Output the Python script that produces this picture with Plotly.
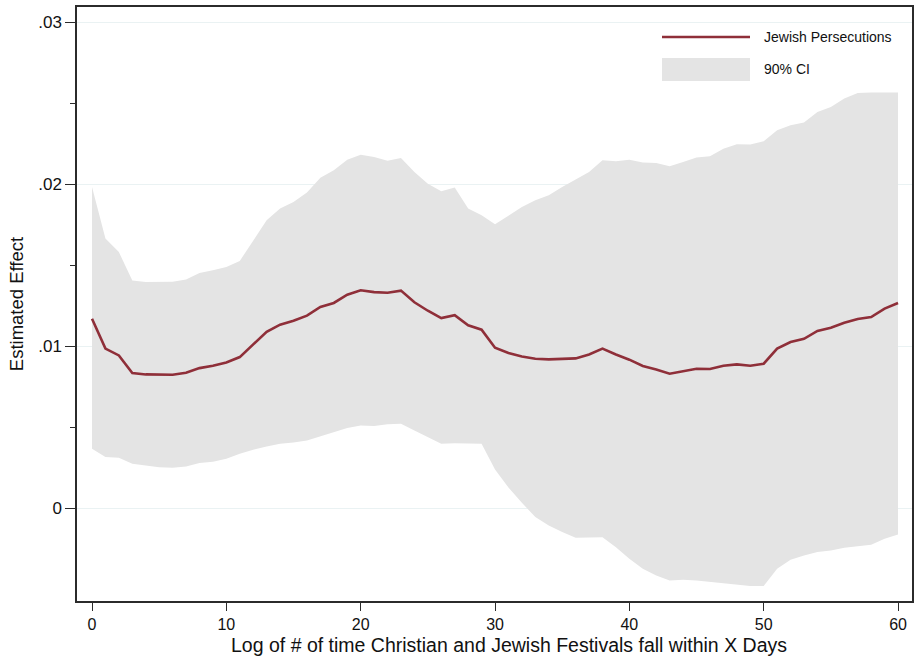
import plotly.graph_objects as go

# ---- data ----
days = list(range(0, 61))

estimate = [0.01171, 0.00986, 0.00944, 0.00835, 0.00827, 0.00825, 0.00825, 0.00837, 0.00866, 0.00881,
            0.00901, 0.00934, 0.01012, 0.01090, 0.01134, 0.01158, 0.01190, 0.01243, 0.01268, 0.01319,
            0.01346, 0.01335, 0.01331, 0.01344, 0.01272, 0.01220, 0.01175, 0.01192, 0.01130, 0.01103,
            0.00992, 0.00959, 0.00938, 0.00924, 0.00920, 0.00924, 0.00926, 0.00950, 0.00986, 0.00950,
            0.00918, 0.00879, 0.00858, 0.00831, 0.00848, 0.00862, 0.00860, 0.00881, 0.00889, 0.00881,
            0.00893, 0.00986, 0.01027, 0.01047, 0.01095, 0.01115, 0.01146, 0.01169, 0.01181, 0.01233,
            0.01268]

ci_upper = [0.01984, 0.01665, 0.01582, 0.01407, 0.01397, 0.01399, 0.01399, 0.01412, 0.01453, 0.01469,
            0.01490, 0.01527, 0.01654, 0.01778, 0.01850, 0.01891, 0.01950, 0.02040, 0.02086, 0.02152,
            0.02183, 0.02169, 0.02146, 0.02163, 0.02076, 0.02004, 0.01957, 0.01980, 0.01850, 0.01809,
            0.01753, 0.01805, 0.01860, 0.01901, 0.01932, 0.01984, 0.02029, 0.02076, 0.02148, 0.02142,
            0.02152, 0.02134, 0.02132, 0.02111, 0.02138, 0.02165, 0.02173, 0.02220, 0.02247, 0.02245,
            0.02265, 0.02333, 0.02364, 0.02381, 0.02446, 0.02477, 0.02529, 0.02564, 0.02566, 0.02566,
            0.02566]

ci_lower = [0.00368, 0.00317, 0.00313, 0.00276, 0.00265, 0.00255, 0.00251, 0.00259, 0.00280, 0.00288,
            0.00307, 0.00338, 0.00362, 0.00383, 0.00399, 0.00407, 0.00420, 0.00445, 0.00471, 0.00496,
            0.00512, 0.00508, 0.00519, 0.00523, 0.00481, 0.00440, 0.00399, 0.00403, 0.00403, 0.00399,
            0.00240, 0.00130, 0.00035, -0.00053, -0.00105, -0.00146, -0.00181, -0.00177, -0.00177, -0.00239,
            -0.00311, -0.00372, -0.00414, -0.00444, -0.00440, -0.00444, -0.00453, -0.00461, -0.00469, -0.00479,
            -0.00479, -0.00372, -0.00317, -0.00290, -0.00268, -0.00259, -0.00243, -0.00233, -0.00224, -0.00187,
            -0.00160]

y_tickvals = [0, 0.01, 0.02, 0.03]
y_ticktext = ["0", ".01", ".02", ".03"]
y_minorvals = [0.005, 0.015, 0.025]
x_tickvals = [0, 10, 20, 30, 40, 50, 60]

series_name = "Jewish Persecutions"
band_name = "90% CI"
x_title = "Log of # of time Christian and Jewish Festivals fall within X Days"
y_title = "Estimated Effect"

# ---- styling ----
W, H = 915, 656
ML, MR, MT, MB = 77, 3, 7, 55
LINE_COLOR = "#8F2F39"
FILL_COLOR = "#E4E4E4"
GRID_COLOR = "#EAF2F3"
AXIS_COLOR = "#2b2b2b"
FONT = "Liberation Sans, Arial, sans-serif"


def px_x(p):
    return (p - ML) / (W - ML - MR)


def px_y(p):
    return (H - MB - p) / (H - MT - MB)


fig = go.Figure()
fig.add_trace(go.Scatter(x=days, y=ci_lower, mode="lines", line=dict(width=0, color=FILL_COLOR),
                         showlegend=False, hoverinfo="skip"))
fig.add_trace(go.Scatter(x=days, y=ci_upper, mode="lines", line=dict(width=0, color=FILL_COLOR),
                         fill="tonexty", fillcolor=FILL_COLOR, name=band_name, showlegend=False))
fig.add_trace(go.Scatter(x=days, y=estimate, mode="lines", line=dict(width=2.6, color=LINE_COLOR),
                         name=series_name, showlegend=False))

# manual legend (inside top-right, like the reference)
shapes = [
    dict(type="rect", xref="paper", yref="paper", x0=px_x(651), x1=px_x(911), y0=px_y(90), y1=px_y(9),
         fillcolor="white", line=dict(width=0), layer="between"),
    dict(type="line", xref="paper", yref="paper", x0=px_x(662), x1=px_x(750), y0=px_y(37), y1=px_y(37),
         line=dict(color=LINE_COLOR, width=2.6), layer="above"),
    dict(type="rect", xref="paper", yref="paper", x0=px_x(662), x1=px_x(750), y0=px_y(81), y1=px_y(58),
         fillcolor=FILL_COLOR, line=dict(width=0), layer="above"),
]
annotations = [
    dict(text=series_name, xref="paper", yref="paper", x=px_x(762), y=px_y(37), xanchor="left",
         yanchor="middle", showarrow=False, font=dict(size=14, color="#111", family=FONT)),
    dict(text=band_name, xref="paper", yref="paper", x=px_x(762), y=px_y(69), xanchor="left",
         yanchor="middle", showarrow=False, font=dict(size=14, color="#111", family=FONT)),
    # x-axis title (placed as in the reference, slightly right of the plot centre)
    dict(text=x_title, xref="paper", yref="paper", x=px_x(509), y=px_y(645), xanchor="center",
         yanchor="middle", showarrow=False, font=dict(size=19.5, color="#111", family=FONT)),
]

fig.update_layout(
    width=W, height=H,
    margin=dict(l=ML, r=MR, t=MT, b=MB, autoexpand=False),
    paper_bgcolor="white", plot_bgcolor="white",
    showlegend=False,
    shapes=shapes, annotations=annotations,
    font=dict(family=FONT, color="#111"),
)

fig.update_xaxes(
    range=[-1.117, 61.04], tickmode="array", tickvals=x_tickvals,
    showgrid=False, zeroline=False,
    showline=True, mirror=True, linecolor=AXIS_COLOR, linewidth=1.5,
    ticks="outside", ticklen=8, tickwidth=1.3, tickcolor=AXIS_COLOR,
    tickfont=dict(size=16), ticklabelstandoff=0,
)
fig.update_yaxes(
    range=[-0.00571, 0.03094], tickmode="array", tickvals=y_tickvals, ticktext=y_ticktext,
    showgrid=True, gridcolor=GRID_COLOR, gridwidth=1.3, zeroline=False,
    showline=True, mirror=True, linecolor=AXIS_COLOR, linewidth=1.5,
    ticks="outside", ticklen=10, tickwidth=1.3, tickcolor=AXIS_COLOR,
    tickfont=dict(size=17),
    minor=dict(tickmode="array", tickvals=y_minorvals, ticks="outside", ticklen=5, tickwidth=1.3,
               tickcolor=AXIS_COLOR, showgrid=False),
    title=dict(text=y_title, font=dict(size=18.5), standoff=10),
)

fig.write_html("out.html")
